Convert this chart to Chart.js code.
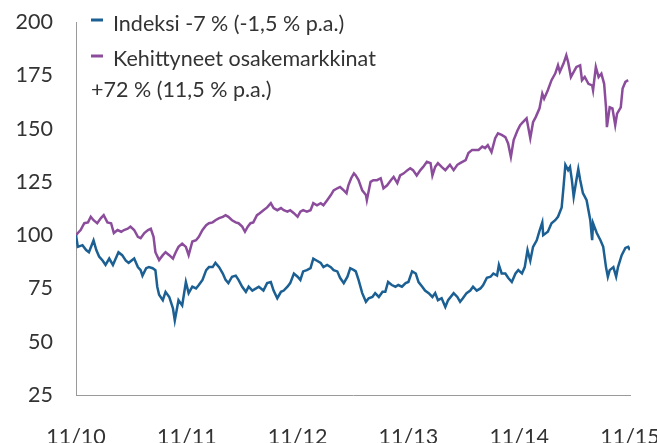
<!DOCTYPE html>
<html>
<head>
<meta charset="utf-8">
<script src="https://cdn.jsdelivr.net/npm/chart.js@4"></script>
<style>
  html, body { margin: 0; padding: 0; background: #fff; }
  #wrap { width: 657px; height: 443px; }
</style>
</head>
<body>
<div id="wrap"><canvas id="chart" width="657" height="443"></canvas></div>
<script>
// months since 11/2010
const tickLabels = ["11/10", "11/11", "11/12", "11/13", "11/14", "11/15"];

const idxMonths = [0, 0.2, 0.7, 1.1, 1.4, 1.9, 2.2, 2.5, 2.9, 3.2, 3.6, 4.0, 4.6, 5.0, 5.4, 5.7, 6.3, 6.7, 7.0, 7.2, 7.6, 7.9, 8.3, 8.6, 8.8, 9.0, 9.4, 9.7, 10.1, 10.5, 10.7, 11.1, 11.5, 11.9, 12.2, 12.6, 13.0, 13.3, 13.7, 14.1, 14.4, 14.8, 15.1, 15.5, 15.9, 16.2, 16.5, 16.9, 17.3, 17.6, 18.0, 18.4, 18.7, 19.1, 19.5, 19.8, 20.3, 20.7, 21.1, 21.4, 21.8, 22.2, 22.5, 22.9, 23.2, 23.6, 24.0, 24.3, 24.6, 25.0, 25.4, 25.7, 26.1, 26.5, 26.8, 27.2, 27.6, 27.9, 28.3, 28.6, 29.0, 29.4, 29.7, 30.1, 30.3, 30.6, 31.0, 31.4, 31.7, 32.1, 32.4, 32.8, 33.2, 33.5, 33.8, 34.2, 34.6, 34.9, 35.3, 35.7, 36.0, 36.4, 36.8, 37.1, 37.5, 37.8, 38.2, 38.6, 38.9, 39.2, 39.6, 40.0, 40.3, 40.9, 41.3, 41.6, 41.9, 42.3, 42.7, 43.0, 43.4, 43.8, 44.1, 44.5, 44.9, 45.2, 45.6, 45.8, 46.1, 46.5, 46.8, 47.2, 47.6, 47.9, 48.3, 48.6, 48.9, 49.2, 49.5, 49.9, 50.2, 50.5, 50.6, 51.1, 51.5, 51.9, 52.2, 52.6, 52.8, 53.0, 53.3, 53.5, 53.7, 53.9, 54.2, 54.4, 54.6, 54.9, 55.3, 55.7, 55.9, 56.0, 56.4, 56.8, 57.1, 57.4, 57.6, 57.8, 58.2, 58.5, 58.7, 59.1, 59.5, 59.8, 60.0];
const idxValues = [100, 94.5, 95.3, 93, 92, 97.5, 93, 90, 88, 86, 89, 86, 92, 90.6, 88, 87, 89, 85, 83.6, 81, 84.5, 85, 84.5, 83.6, 75.8, 72, 69.5, 73.4, 71, 65.7, 60, 69.5, 67, 78, 72.8, 75.8, 75, 76.6, 79, 83.6, 85, 85, 87, 85, 82, 79, 77.5, 80.5, 81, 79, 75.8, 73.4, 75.8, 74, 75, 75.8, 74, 77.5, 78, 74, 70.4, 73.4, 74, 75.8, 77.5, 82, 80.5, 79, 83, 83.6, 84.5, 89, 88, 87, 85, 86, 85, 83.6, 83, 80, 77.5, 80.5, 84.5, 83.6, 83, 79, 72.8, 68.7, 70.4, 71, 72.8, 71, 73.4, 73.4, 78, 76.6, 75.8, 76.6, 75.8, 77.5, 78, 83, 82, 78, 75.8, 74, 72.8, 71, 72.8, 69.5, 70.4, 66.3, 69.5, 72.8, 71, 68.7, 70.4, 72.8, 74, 75.8, 74, 75, 76.6, 80, 80.5, 82, 81, 86, 82, 82, 80, 78, 82, 83.6, 82, 85, 93, 88, 94.5, 97.6, 102, 106, 100, 101.6, 105.6, 107, 108.6, 113, 122.6, 133, 130.5, 132, 126, 118, 126, 131, 126, 119.7, 116.4, 107, 97.6, 105.6, 101, 97.6, 94.5, 85, 80.5, 83.6, 85, 80.5, 85, 90.6, 94, 94.5, 93];

const emMonths = [0, 0.2, 0.5, 0.9, 1.3, 1.6, 1.9, 2.3, 2.7, 3.0, 3.4, 3.8, 4.1, 4.5, 4.9, 5.2, 5.6, 5.9, 6.3, 6.7, 7.0, 7.4, 7.8, 8.1, 8.4, 8.6, 9.0, 9.4, 9.7, 10.1, 10.5, 10.8, 11.1, 11.5, 11.9, 12.2, 12.6, 13.0, 13.3, 13.7, 14.1, 14.4, 14.8, 15.1, 15.5, 15.9, 16.2, 16.5, 16.9, 17.3, 17.6, 18.0, 18.3, 18.6, 18.9, 19.2, 19.6, 19.9, 20.3, 20.7, 21.1, 21.4, 21.8, 22.2, 22.5, 22.9, 23.2, 23.6, 24.0, 24.3, 24.6, 25.0, 25.4, 25.7, 26.1, 26.5, 26.8, 27.2, 27.6, 27.9, 28.3, 28.6, 29.0, 29.3, 29.5, 29.8, 30.1, 30.3, 30.6, 31.0, 31.4, 31.5, 31.9, 32.2, 32.6, 33.0, 33.3, 33.7, 34.1, 34.4, 34.8, 35.1, 35.5, 35.9, 36.2, 36.5, 36.9, 37.3, 37.6, 38.0, 38.4, 38.6, 38.9, 39.2, 39.6, 40.0, 40.3, 40.5, 40.9, 41.3, 41.6, 42.2, 42.5, 42.9, 43.2, 43.6, 44.0, 44.3, 44.6, 45.0, 45.4, 45.7, 46.1, 46.5, 46.8, 47.1, 47.4, 47.8, 48.1, 48.4, 48.8, 49.2, 49.5, 49.8, 50.2, 50.5, 50.7, 51.1, 51.5, 51.9, 52.2, 52.4, 52.8, 53.1, 53.3, 53.6, 53.8, 54.2, 54.6, 54.8, 55.1, 55.5, 55.9, 56.0, 56.3, 56.6, 56.9, 57.2, 57.4, 57.5, 57.8, 58.1, 58.4, 58.6, 59.0, 59.2, 59.5, 59.8];
const emValues = [100, 101, 102.4, 105.6, 106, 108.6, 107, 105.6, 108, 109.4, 106, 105.6, 101, 102.4, 101.6, 102.4, 103, 104, 102.4, 99.2, 98.6, 101, 102.4, 103, 99.2, 92, 88.3, 90.6, 92, 90.6, 89, 92, 94.5, 96, 94.5, 90.6, 97, 97.6, 99.2, 102.4, 104.7, 105.6, 106, 107, 108, 108.6, 109.4, 108.6, 107, 106, 105.6, 104, 101.6, 104, 105.6, 106, 109.4, 110.3, 111.7, 113, 115, 112.7, 111.7, 112.7, 111.7, 111, 111.7, 110.3, 108.6, 111, 111.7, 111, 111.7, 115, 114, 115, 114, 116.4, 118.8, 121, 122, 122.6, 121, 119.7, 123.4, 126.7, 129, 128, 125.8, 121, 118.8, 116.4, 125, 125.8, 125.8, 126.7, 122, 123.4, 125.8, 127.3, 124.4, 128, 129, 130.5, 131.4, 130.5, 128, 130.5, 132, 134.4, 133.8, 128, 132, 133.8, 132, 130.5, 132, 133, 130.5, 133, 133.8, 135.2, 138.5, 140, 140, 140, 141.6, 140.8, 142.2, 139, 145.5, 147.8, 147, 146, 143, 136.7, 144.6, 149, 151.6, 153, 154.8, 145.5, 153, 155.5, 159.5, 166.4, 164, 168, 172.7, 175.8, 179.7, 176.6, 180.5, 184.4, 181.2, 174.2, 175.8, 178.9, 179.7, 172.7, 174.2, 171, 170.3, 168, 178.9, 174.2, 175.8, 171, 160, 150.7, 160, 159.5, 151.6, 157, 160, 168.8, 171.9, 172.7];

const idxLabel = "Indeksi -7 % (-1,5 % p.a.)";
const emLabel = ["Kehittyneet osakemarkkinat", "+72 % (11,5 % p.a.)"];

const blue = "#1b5f93";
const purple = "#8c4c9c";
const font = "Lato, 'Open Sans', sans-serif";

const legendPlugin = {
  id: "textLegend",
  afterDraw(chart) {
    const ctx = chart.ctx;
    ctx.save();
    ctx.font = "21.5px " + font;
    ctx.textBaseline = "middle";
    ctx.lineWidth = 3;
    ctx.strokeStyle = blue;
    ctx.beginPath(); ctx.moveTo(91, 20); ctx.lineTo(103, 20); ctx.stroke();
    ctx.strokeStyle = purple;
    ctx.beginPath(); ctx.moveTo(91, 56); ctx.lineTo(103, 56); ctx.stroke();
    ctx.fillStyle = "#333";
    ctx.fillText(idxLabel, 113, 24);
    ctx.fillText(emLabel[0], 113, 59);
    ctx.fillText(emLabel[1], 91, 90);
    ctx.restore();
  }
};

new Chart(document.getElementById("chart"), {
  type: "line",
  data: {
    datasets: [
      {
        label: idxLabel,
        data: idxMonths.map((m, i) => ({ x: m, y: idxValues[i] })),
        borderColor: blue,
        borderWidth: 2.5,
        pointRadius: 0,
        tension: 0
      },
      {
        label: emLabel.join(" "),
        data: emMonths.map((m, i) => ({ x: m, y: emValues[i] })),
        borderColor: purple,
        borderWidth: 2.5,
        pointRadius: 0,
        tension: 0
      }
    ]
  },
  options: {
    responsive: false,
    animation: false,
    layout: { padding: { top: 22, right: 27, left: 0, bottom: 0 } },
    plugins: { legend: { display: false }, tooltip: { enabled: false } },
    scales: {
      x: {
        type: "linear",
        min: 0,
        max: 60,
        grid: { display: false, drawTicks: false },
        border: { display: true, color: "#9a9a9a", width: 1 },
        ticks: {
          stepSize: 12,
          padding: 29,
          color: "#333",
          font: { family: font, size: 21.5 },
          maxRotation: 0,
          callback: (v) => tickLabels[v / 12]
        },
        afterFit: (s) => {
          s.height = 48;
          s.paddingLeft = 0;
          s.paddingRight = 0;
        }
      },
      y: {
        min: 25,
        max: 200,
        grid: { display: false, drawTicks: false },
        border: { display: true, color: "#9a9a9a", width: 1 },
        ticks: {
          stepSize: 25,
          padding: 23,
          color: "#333",
          font: { family: font, size: 21.5 }
        },
        afterFit: (s) => {
          s.width = 76;
          s.paddingTop = 0;
          s.paddingBottom = 0;
        }
      }
    }
  },
  plugins: [legendPlugin]
});
</script>
</body>
</html>
